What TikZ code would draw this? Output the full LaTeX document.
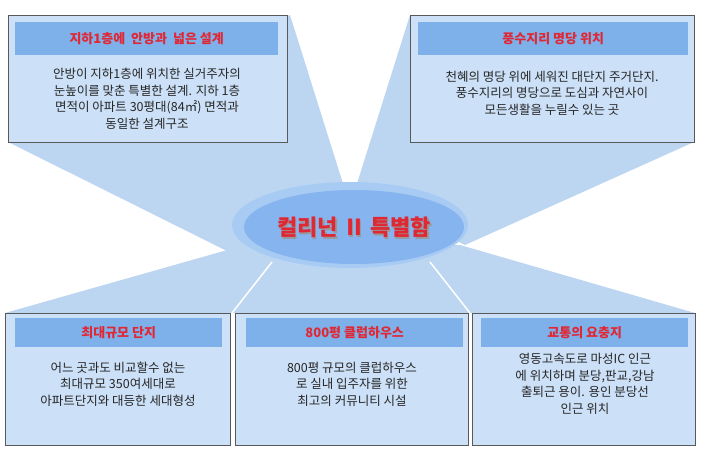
\documentclass[tikz,border=0pt]{standalone}
\usepackage{fontspec}
\setmainfont{Noto Sans CJK KR}
\usetikzlibrary{shapes.geometric}
\definecolor{fan}{HTML}{BCD6F2}
\definecolor{boxf}{HTML}{CCE0F7}
\definecolor{head}{HTML}{7EB0EA}
\definecolor{redt}{HTML}{E02835}
\definecolor{ell}{HTML}{86B4EE}
\definecolor{ring}{HTML}{A8CBF4}
\tikzset{
 panel/.style={draw=gray!70!black,line width=0.8pt,fill=boxf},
 hdr/.style={fill=head,text=redt,font=\fontsize{13}{15}\selectfont\bfseries,inner sep=0},
 body/.style={align=center,font=\fontsize{12.5}{16.5}\selectfont,text=black!85},
 ttl/.style={font=\fontsize{22}{26}\selectfont\bfseries}
}
\begin{document}
\begin{tikzpicture}[x=1pt,y=-1pt]
\useasboundingbox (0,0) rectangle (702,455);
\fill[white] (0,0) rectangle (702,455);
% fans
\fill[fan] (8,142)--(290,15)--(345,190)--(235,255)--cycle;
\fill[fan] (410,15)--(694,142)--(465,245)--(355,190)--cycle;
\fill[fan] (5,313)--(245,245)--(460,245)--(695,313)--cycle;
\coordinate (l1) at (232,313); \coordinate (l2) at (272,262);
\coordinate (r1) at (470,313); \coordinate (r2) at (430,262);
\draw[white,line width=1.5pt] (l1)--(l2) (r1)--(r2);
% ellipse
\node[ellipse,fill=ring,minimum width=236pt,minimum height=86pt,inner sep=0] (ringn) at (350,225) {};
\node[ellipse,fill=ell,minimum width=220pt,minimum height=74pt,inner sep=0] (c) at (354,227) {};
\node[ttl,text=black!40] (cs) at (355.5,229.5) {컬리넌 Ⅱ 특별함};
\node[ttl,text=redt] (ct) at (c) {컬리넌 Ⅱ 특별함};
% top-left
\node[panel,minimum width=279pt,minimum height=127pt,anchor=north west] (p1) at (8,15) {};
\node[hdr,minimum width=263pt,minimum height=33pt,anchor=north west] (h1) at (15,22) {지하1층에 \ 안방과 \ 넓은 설계};
\node[body] (b1) at (147,99) {안방이 지하1층에 위치한 실거주자의\\눈높이를 맞춘 특별한 설계. 지하 1층\\면적이 아파트 30평대(84㎡) 면적과\\동일한 설계구조};
% top-right
\node[panel,minimum width=284pt,minimum height=127pt,anchor=north west] (p2) at (410,15) {};
\node[hdr,minimum width=270pt,minimum height=33pt,anchor=north west] (h2) at (418,22) {풍수지리 명당 위치};
\node[body] (b2) at (552,93) {천혜의 명당 위에 세워진 대단지 주거단지.\\풍수지리의 명당으로 도심과 자연사이\\모든생활을 누릴수 있는 곳};
% bottom
\node[panel,minimum width=225pt,minimum height=132pt,anchor=north west] (p3) at (5,313) {};
\node[hdr,minimum width=207pt,minimum height=29pt,anchor=north west] (h3) at (15,318) {최대규모 단지};
\node[body] (b3) at (118,384) {어느 곳과도 비교할수 없는\\최대규모 350여세대로\\아파트단지와 대등한 세대형성};
\node[panel,minimum width=233pt,minimum height=132pt,anchor=north west] (p4) at (235,313) {};
\node[hdr,minimum width=217pt,minimum height=29pt,anchor=north west] (h4) at (246,318) {800평 클럽하우스};
\node[body] (b4) at (352,384) {800평 규모의 클럽하우스\\로 실내 입주자를 위한\\최고의 커뮤니티 시설};
\node[panel,minimum width=223pt,minimum height=132pt,anchor=north west] (p5) at (472,313) {};
\node[hdr,minimum width=207pt,minimum height=29pt,anchor=north west] (h5) at (481,318) {교통의 요충지};
\node[body] (b5) at (585,384) {영동고속도로 마성IC 인근\\에 위치하며 분당,판교,강남\\출퇴근 용이. 용인 분당선\\인근 위치};
\end{tikzpicture}
\end{document}
